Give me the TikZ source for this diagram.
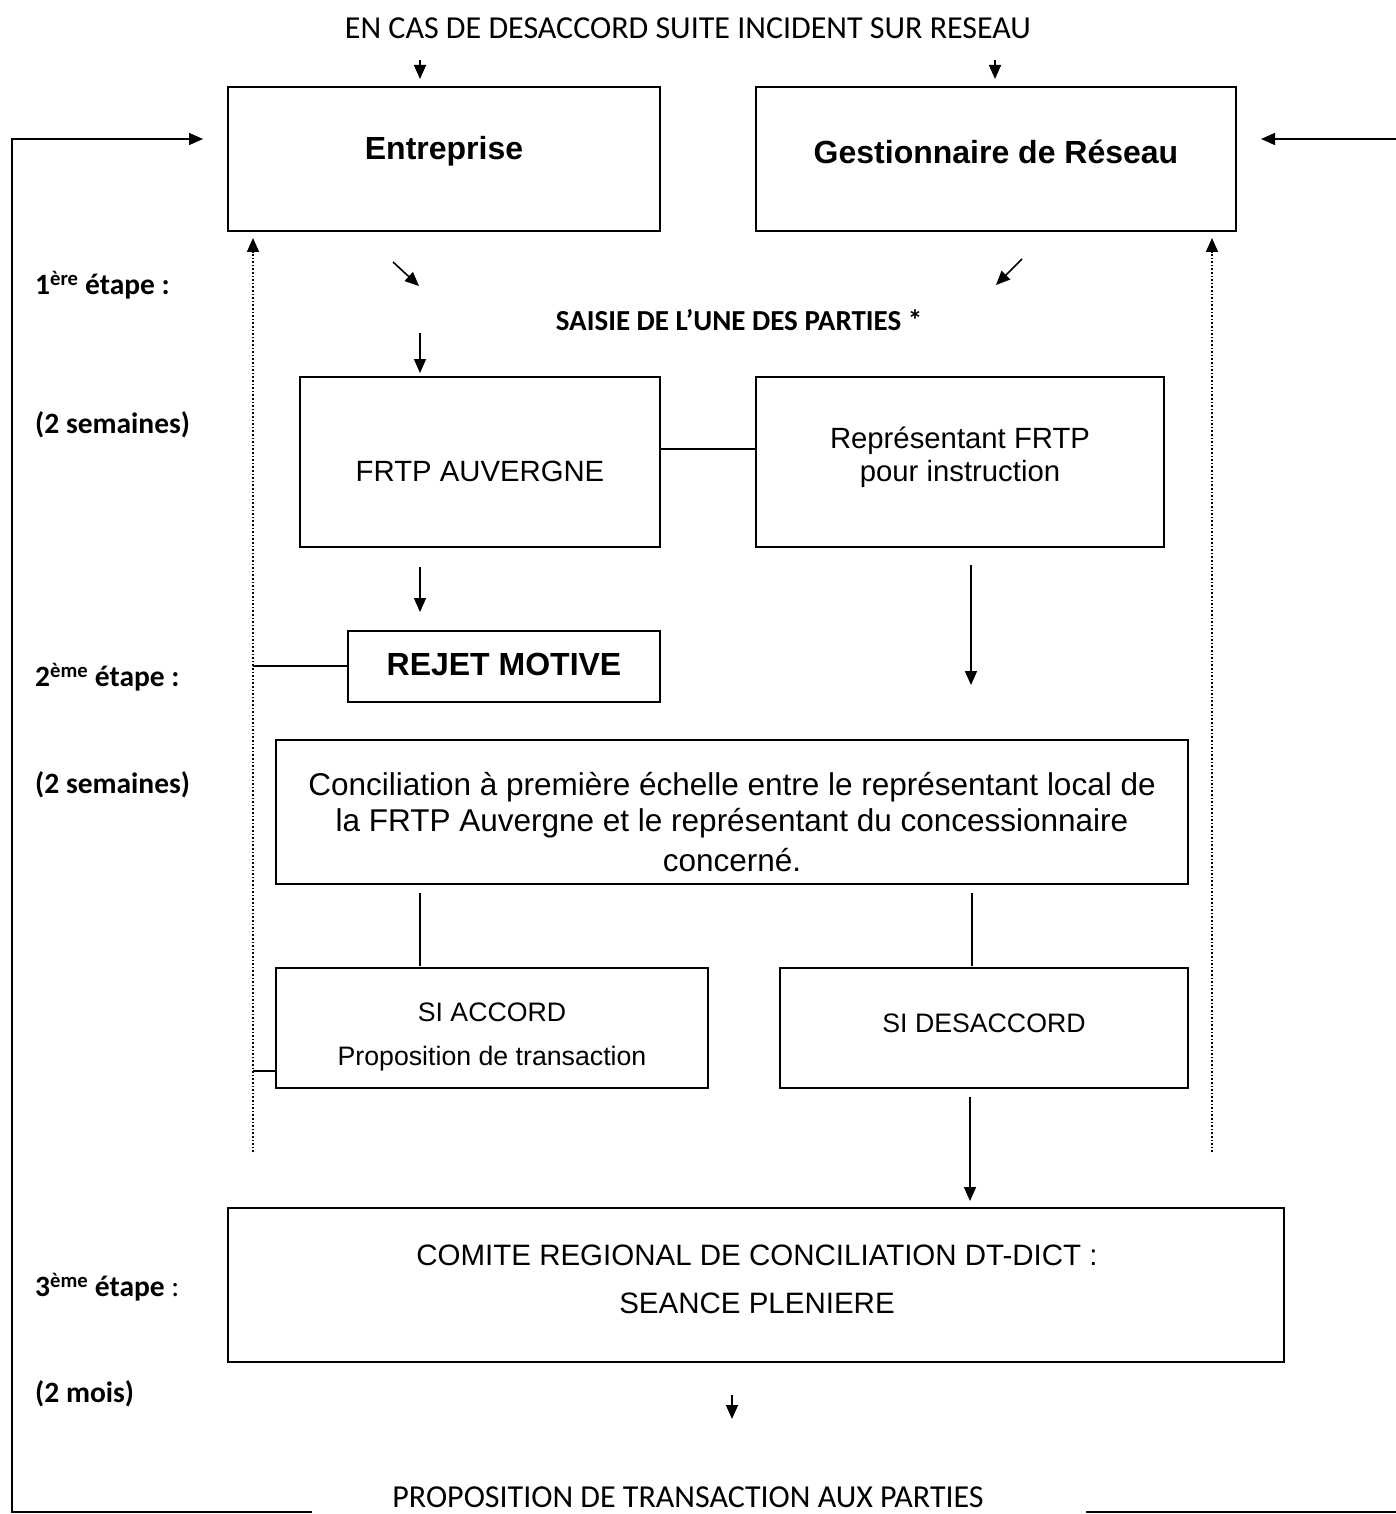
\documentclass[tikz,border=0pt]{standalone}
\usepackage{fontspec}
\setmainfont{Liberation Sans}
\newfontfamily\carl{Carlito}
\usetikzlibrary{arrows.meta}
\tikzset{
  box/.style={draw, line width=1.6pt, inner sep=0pt},
  arr/.style={line width=1.6pt, -{Triangle[length=14pt,width=12pt]}},
  plain/.style={line width=1.6pt},
  dotarr/.style={line width=1.6pt, dotted, -{Triangle[length=14pt,width=12pt]}},
  lbl/.style={anchor=west, inner sep=0pt, font=\carl\bfseries\fontsize{29.5}{34}\selectfont},
  bigb/.style={font=\bfseries\fontsize{32}{38}\selectfont, inner sep=0pt},
  txt/.style={font=\fontsize{29.3}{34}\selectfont, inner sep=0pt, align=center},
  conctxt/.style={font=\fontsize{31.5}{36}\selectfont, inner sep=0pt},
  small/.style={font=\fontsize{26.7}{30}\selectfont, inner sep=0pt, align=center},
  comtxt/.style={font=\fontsize{29.5}{34}\selectfont, inner sep=0pt},
  carltxt/.style={font=\carl\fontsize{32}{38}\selectfont, inner sep=0pt},
}
\begin{document}
\begin{tikzpicture}[x=1pt,y=-1pt]
\useasboundingbox (0,0) rectangle (1396,1514);

% header
\node[carltxt] (hdr) at (688,28) {EN CAS DE DESACCORD SUITE INCIDENT SUR RESEAU};

% boxes
\node[box, minimum width=432pt, minimum height=144pt] (ent) at (444,159) {};
\node[box, minimum width=480pt, minimum height=144pt] (gest) at (996,159) {};
\node[box, minimum width=360pt, minimum height=170pt] (frtp) at (480,462) {};
\node[box, minimum width=408pt, minimum height=170pt] (rep) at (960,462) {};
\node[box, minimum width=312pt, minimum height=71pt] (rejet) at (504,666.5) {};
\node[box, minimum width=912pt, minimum height=144pt] (conc) at (732,812) {};
\node[box, minimum width=432pt, minimum height=120pt] (acc) at (492,1028) {};
\node[box, minimum width=408pt, minimum height=120pt] (desacc) at (984,1028) {};
\node[box, minimum width=1056pt, minimum height=154pt] (comite) at (756,1285) {};

% box texts
\node[bigb] (entT) at (444,151) {Entreprise};
\node[bigb] (gestT) at (996,152) {Gestionnaire de Réseau};
\node[txt] (frtpT) at (480,471) {FRTP AUVERGNE};
\node[txt] (repT1) at (960,441) {Représentant FRTP};
\node[txt] (repT2) at (960,474) {pour instruction};
\node[bigb] (rejetT) at (504,664) {REJET MOTIVE};
\node[conctxt] (concT1) at (732,787) {Conciliation à première échelle entre le représentant local de};
\node[conctxt] (concT2) at (732,823) {la FRTP Auvergne et le représentant du concessionnaire};
\node[conctxt] (concT3) at (732,860) {concerné.};
\node[small] (accT1) at (492,1012) {SI ACCORD};
\node[small] (accT2) at (492,1059) {Proposition de transaction};
\node[small] (desaccT) at (984,1023) {SI DESACCORD};
\node[comtxt] (comT1) at (757,1255) {COMITE REGIONAL DE CONCILIATION DT-DICT :};
\node[comtxt] (comT2) at (757,1303) {SEANCE PLENIERE};

\node[font=\carl\bfseries\fontsize{29}{34}\selectfont, inner sep=0pt] (saisie) at (739,320) {SAISIE DE L’UNE DES PARTIES *};

% left labels
\node[lbl] (e1) at (35,285) {1\textsuperscript{ère} étape :};
\node[lbl] (s1) at (35,425) {(2 semaines)};
\node[lbl] (e2) at (35,677) {2\textsuperscript{ème} étape :};
\node[lbl] (s2) at (35,785) {(2 semaines)};
\node[lbl] (e3) at (35,1287) {3\textsuperscript{ème} étape {\mdseries:}};
\node[lbl] (m3) at (35,1394) {(2 mois)};

% bottom text
\node[carltxt] (prop) at (688,1497) {PROPOSITION DE TRANSACTION AUX PARTIES};

% coordinates for connectors
\coordinate (h1a) at (420,60);  \coordinate (h1b) at (420,79);
\coordinate (h2a) at (995,60);  \coordinate (h2b) at (995,79);
\coordinate (d1a) at (393,262); \coordinate (d1b) at (419,286);
\coordinate (d2a) at (1022,259); \coordinate (d2b) at (996,285);
\coordinate (s3a) at (420,333); \coordinate (s3b) at (420,373);
\coordinate (f1a) at (420,567); \coordinate (f1b) at (420,612);
\coordinate (r1a) at (971,565); \coordinate (r1b) at (971,685);
\coordinate (c1a) at (420,893); \coordinate (c1b) at (420,966);
\coordinate (c2a) at (972,893); \coordinate (c2b) at (972,966);
\coordinate (x1a) at (970,1097); \coordinate (x1b) at (970,1201);
\coordinate (m1a) at (732,1395); \coordinate (m1b) at (732,1419);
\coordinate (dl1) at (253,1152); \coordinate (dl2) at (253,238);
\coordinate (dr1) at (1212,1152); \coordinate (dr2) at (1212,238);
\coordinate (jr) at (253,666); \coordinate (ja) at (253,1071);
\coordinate (loopB) at (312,1512); \coordinate (loopC) at (12,1512);
\coordinate (loopD) at (12,139); \coordinate (loopE) at (203,139);
\coordinate (rB) at (1086,1512); \coordinate (rC) at (1396,1512);
\coordinate (rD) at (1396,139); \coordinate (rE) at (1261,139);

% connectors
\draw[arr] (h1a) -- (h1b);
\draw[arr] (h2a) -- (h2b);
\draw[arr] (d1a) -- (d1b);
\draw[arr] (d2a) -- (d2b);
\draw[arr] (s3a) -- (s3b);
\draw[arr] (f1a) -- (f1b);
\draw[arr] (r1a) -- (r1b);
\draw[plain] (c1a) -- (c1b);
\draw[plain] (c2a) -- (c2b);
\draw[arr] (x1a) -- (x1b);
\draw[arr] (m1a) -- (m1b);
\draw[plain] (frtp.east |- 0,449) -- (rep.west |- 0,449);
\draw[dotarr] (dl1) -- (dl2);
\draw[dotarr] (dr1) -- (dr2);
\draw[plain] (jr) -- (rejet.west |- jr);
\draw[plain] (ja) -- (acc.west |- ja);
\draw[arr] (loopB) -- (loopC) -- (loopD) -- (loopE);
\draw[plain] (rB) -- (rC);
\draw[arr] (rD) -- (rE);
\end{tikzpicture}
\end{document}
